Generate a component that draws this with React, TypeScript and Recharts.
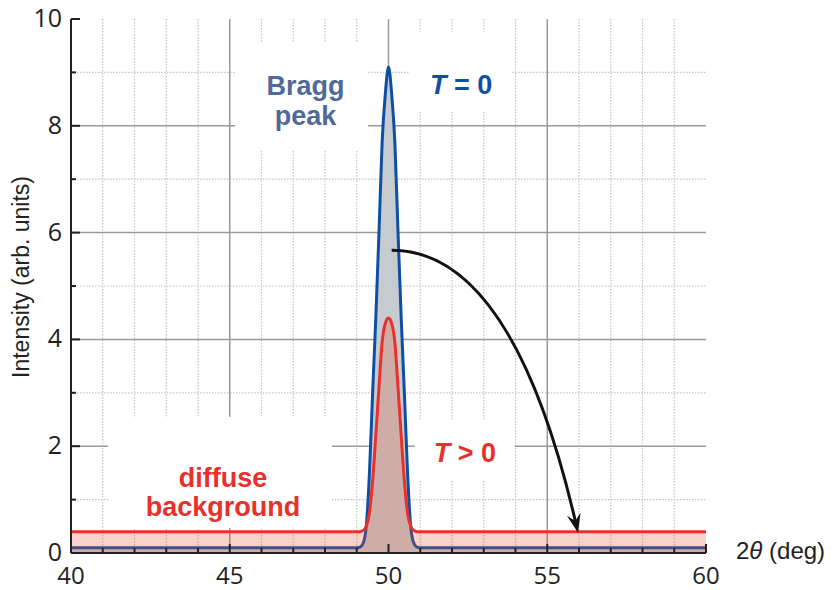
import React from 'react';
import { AreaChart, Area, XAxis, YAxis, CartesianGrid, ReferenceArea, Label } from 'recharts';

// 2-theta positions and intensities
const angle = [40, 48, 49, 49.1, 49.2, 49.3, 49.4, 49.5, 49.6, 49.7, 49.8, 49.9, 50, 50.1, 50.2, 50.3, 50.4, 50.5, 50.6, 50.7, 50.8, 50.9, 51, 52, 60];
const braggT0 = [0.1, 0.1, 0.1, 0.11, 0.18, 0.5, 1.5, 3.0, 4.4, 6.0, 7.7, 8.6, 9.1, 8.6, 7.7, 6.0, 4.4, 3.0, 1.5, 0.5, 0.18, 0.11, 0.1, 0.1, 0.1];
const braggT1 = [0.4, 0.4, 0.4, 0.4, 0.42, 0.5, 0.75, 1.35, 2.2, 3.1, 3.95, 4.3, 4.4, 4.3, 3.95, 3.1, 2.2, 1.35, 0.75, 0.5, 0.42, 0.4, 0.4, 0.4, 0.4];

const xTicks = [40, 41, 42, 43, 44, 45, 46, 47, 48, 49, 50, 51, 52, 53, 54, 55, 56, 57, 58, 59, 60];
const yTicks = [0, 1, 2, 3, 4, 5, 6, 7, 8, 9, 10];
const xMajorGrid = [45, 50, 55];
const xMinorGrid = [41, 42, 43, 44, 46, 47, 48, 49, 51, 52, 53, 54, 56, 57, 58, 59];
const yMajorGrid = [2, 4, 6, 8];
const yMinorGrid = [1, 3, 5, 7, 9];

const data = angle.map((x, i) => ({ x, cold: braggT0[i], warm: braggT1[i] }));

const AXIS = '#222';
const BLUE = '#0f4fa3';
const RED = '#e8302d';
const SANS = '"Open Sans", sans-serif';
const ARIAL = 'Arial, "Liberation Sans", sans-serif';

const BottomTick = ({ x, y, payload }: any) => {
  const major = payload.value % 5 === 0;
  return (
    <g>
      <line x1={x} y1={y} x2={x} y2={y - (major ? 9 : 5)} stroke={AXIS} strokeWidth={2} />
      {major && (
        <text x={x} y={y + 31} textAnchor="middle" fontSize={24} fontFamily={SANS} fill={AXIS}>
          {payload.value}
        </text>
      )}
    </g>
  );
};

const TopTick = ({ x, y, payload }: any) => {
  const major = payload.value % 5 === 0;
  return <line x1={x} y1={y} x2={x} y2={y + (major ? 9 : 5)} stroke={AXIS} strokeWidth={2} />;
};

const LeftTick = ({ x, y, payload }: any) => {
  const major = payload.value % 2 === 0;
  return (
    <g>
      <line x1={x} y1={y} x2={x + (major ? 9 : 5)} y2={y} stroke={AXIS} strokeWidth={2} />
      {major && (
        <text x={x - 9} y={y + 8} textAnchor="end" fontSize={25} fontFamily={SANS} fill={AXIS}>
          {payload.value}
        </text>
      )}
    </g>
  );
};

const RightTick = ({ x, y, payload }: any) => {
  const major = payload.value % 2 === 0;
  return <line x1={x} y1={y} x2={x - (major ? 9 : 5)} y2={y} stroke={AXIS} strokeWidth={2} />;
};

const XTitle = ({ viewBox }: any) => (
  <text x={viewBox.x + viewBox.width + 30} y={viewBox.y + 6} fontSize={24} fontFamily={ARIAL} fill={AXIS}>
    2<tspan fontStyle="italic">θ</tspan> (deg)
  </text>
);

const YTitle = ({ viewBox }: any) => {
  const cx = 29;
  const cy = viewBox.y + viewBox.height / 2 - 9;
  return (
    <text x={cx} y={cy} transform={`rotate(-90, ${cx}, ${cy})`} textAnchor="middle" fontSize={23} fontFamily={ARIAL} fill={AXIS}>
      Intensity (arb. units)
    </text>
  );
};

const boxText = (lines: React.ReactNode[], color: string, firstBaseline: number, lineGap: number, dx = 0) =>
  ({ viewBox }: any) => (
    <g>
      {lines.map((l, i) => (
        <text
          key={i}
          x={viewBox.x + viewBox.width / 2 + dx}
          y={viewBox.y + firstBaseline + i * lineGap}
          textAnchor="middle"
          fontSize={27}
          fontWeight="bold"
          fontFamily={ARIAL}
          fill={color}
        >
          {l}
        </text>
      ))}
    </g>
  );

const Arrow = ({ viewBox }: any) => {
  const { x, y, width: w, height: h } = viewBox;
  const p0 = [x, y];
  const p1 = [x + 0.535 * w, y];
  const p2 = [x + 0.824 * w, y + 0.5 * h];
  const p3 = [x + w, y + h];
  const dx = p3[0] - p2[0];
  const dy = p3[1] - p2[1];
  const len = Math.hypot(dx, dy);
  const d = [dx / len, dy / len];
  const n = [-d[1], d[0]];
  const end = [p3[0] - 10 * d[0], p3[1] - 10 * d[1]];
  const head = [
    p3,
    [p3[0] - 19 * d[0] + 7 * n[0], p3[1] - 19 * d[1] + 7 * n[1]],
    [p3[0] - 12 * d[0], p3[1] - 12 * d[1]],
    [p3[0] - 19 * d[0] - 7 * n[0], p3[1] - 19 * d[1] - 7 * n[1]],
  ];
  return (
    <g>
      <path
        d={`M${p0[0]},${p0[1]} C${p1[0]},${p1[1]} ${p2[0]},${p2[1]} ${end[0]},${end[1]}`}
        fill="none"
        stroke="#111"
        strokeWidth={3}
      />
      <polygon points={head.map((p) => p.join(',')).join(' ')} fill="#111" />
    </g>
  );
};

export default function App() {
  return (
    <div style={{ position: 'absolute', left: 0, top: 0, width: 832, height: 590, background: '#fff' }}>
      <AreaChart width={832} height={590} data={data} margin={{ top: 19, right: 126, bottom: 0, left: 0 }}>
        <CartesianGrid
          verticalValues={xMinorGrid}
          horizontalValues={yMinorGrid}
          stroke="#c4c4c4"
          strokeWidth={1.2}
          strokeDasharray="1.5 1.5"
        />
        <CartesianGrid verticalValues={xMajorGrid} horizontalValues={yMajorGrid} stroke="#9a9a9a" strokeWidth={1.5} />
        <XAxis
          dataKey="x"
          type="number"
          domain={[40, 60]}
          ticks={xTicks}
          interval={0}
          height={37}
          tickSize={0}
          tickMargin={0}
          tickLine={false}
          axisLine={{ stroke: AXIS, strokeWidth: 2 }}
          tick={<BottomTick />}
        >
          <Label content={XTitle} />
        </XAxis>
        <XAxis
          xAxisId="top"
          orientation="top"
          dataKey="x"
          type="number"
          domain={[40, 60]}
          ticks={xTicks}
          interval={0}
          height={0}
          tickSize={0}
          tickMargin={0}
          tickLine={false}
          axisLine={{ stroke: AXIS, strokeWidth: 2 }}
          tick={<TopTick />}
        />
        <YAxis
          type="number"
          domain={[0, 10]}
          ticks={yTicks}
          interval={0}
          width={71}
          tickSize={0}
          tickMargin={0}
          tickLine={false}
          axisLine={{ stroke: AXIS, strokeWidth: 2 }}
          tick={<LeftTick />}
        >
          <Label content={YTitle} />
        </YAxis>
        <YAxis
          yAxisId="right"
          orientation="right"
          type="number"
          domain={[0, 10]}
          ticks={yTicks}
          interval={0}
          width={0}
          tickSize={0}
          tickMargin={0}
          tickLine={false}
          axisLine={{ stroke: AXIS, strokeWidth: 2 }}
          tick={<RightTick />}
        />

        <ReferenceArea x1={45.17} x2={49.35} y1={7.55} y2={9.57} fill="#fff" fillOpacity={1} stroke="none">
          <Label content={boxText(['Bragg', 'peak'], '#4f6a98', 53, 30, 4)} />
        </ReferenceArea>
        <ReferenceArea x1={50.68} x2={53.89} y1={8.26} y2={9.76} fill="#fff" fillOpacity={1} stroke="none">
          <Label
            content={boxText(
              [<><tspan fontStyle="italic">T</tspan> = 0</>],
              BLUE,
              62,
              0,
            )}
          />
        </ReferenceArea>
        <ReferenceArea x1={50.83} x2={53.98} y1={1.37} y2={2.49} fill="#fff" fillOpacity={1} stroke="none">
          <Label
            content={boxText(
              [<><tspan fontStyle="italic">T</tspan> &gt; 0</>],
              RED,
              42,
              0,
            )}
          />
        </ReferenceArea>
        <ReferenceArea x1={41.17} x2={48.22} y1={0.47} y2={2.55} fill="#fff" fillOpacity={1} stroke="none">
          <Label content={boxText(['diffuse', 'background'], RED, 70, 29, 3)} />
        </ReferenceArea>

        <Area
          type="monotone"
          dataKey="cold"
          stroke={BLUE}
          strokeWidth={3}
          fill="#c6cbd0"
          fillOpacity={1}
          isAnimationActive={false}
          dot={false}
          activeDot={false}
        />
        <Area
          type="monotone"
          dataKey="warm"
          stroke={RED}
          strokeWidth={3}
          fill="#e85030"
          fillOpacity={0.25}
          isAnimationActive={false}
          dot={false}
          activeDot={false}
        />

        <ReferenceArea x1={50.1} x2={55.97} y1={0.38} y2={5.67} fill="none" stroke="none">
          <Label content={Arrow} />
        </ReferenceArea>
      </AreaChart>
    </div>
  );
}
